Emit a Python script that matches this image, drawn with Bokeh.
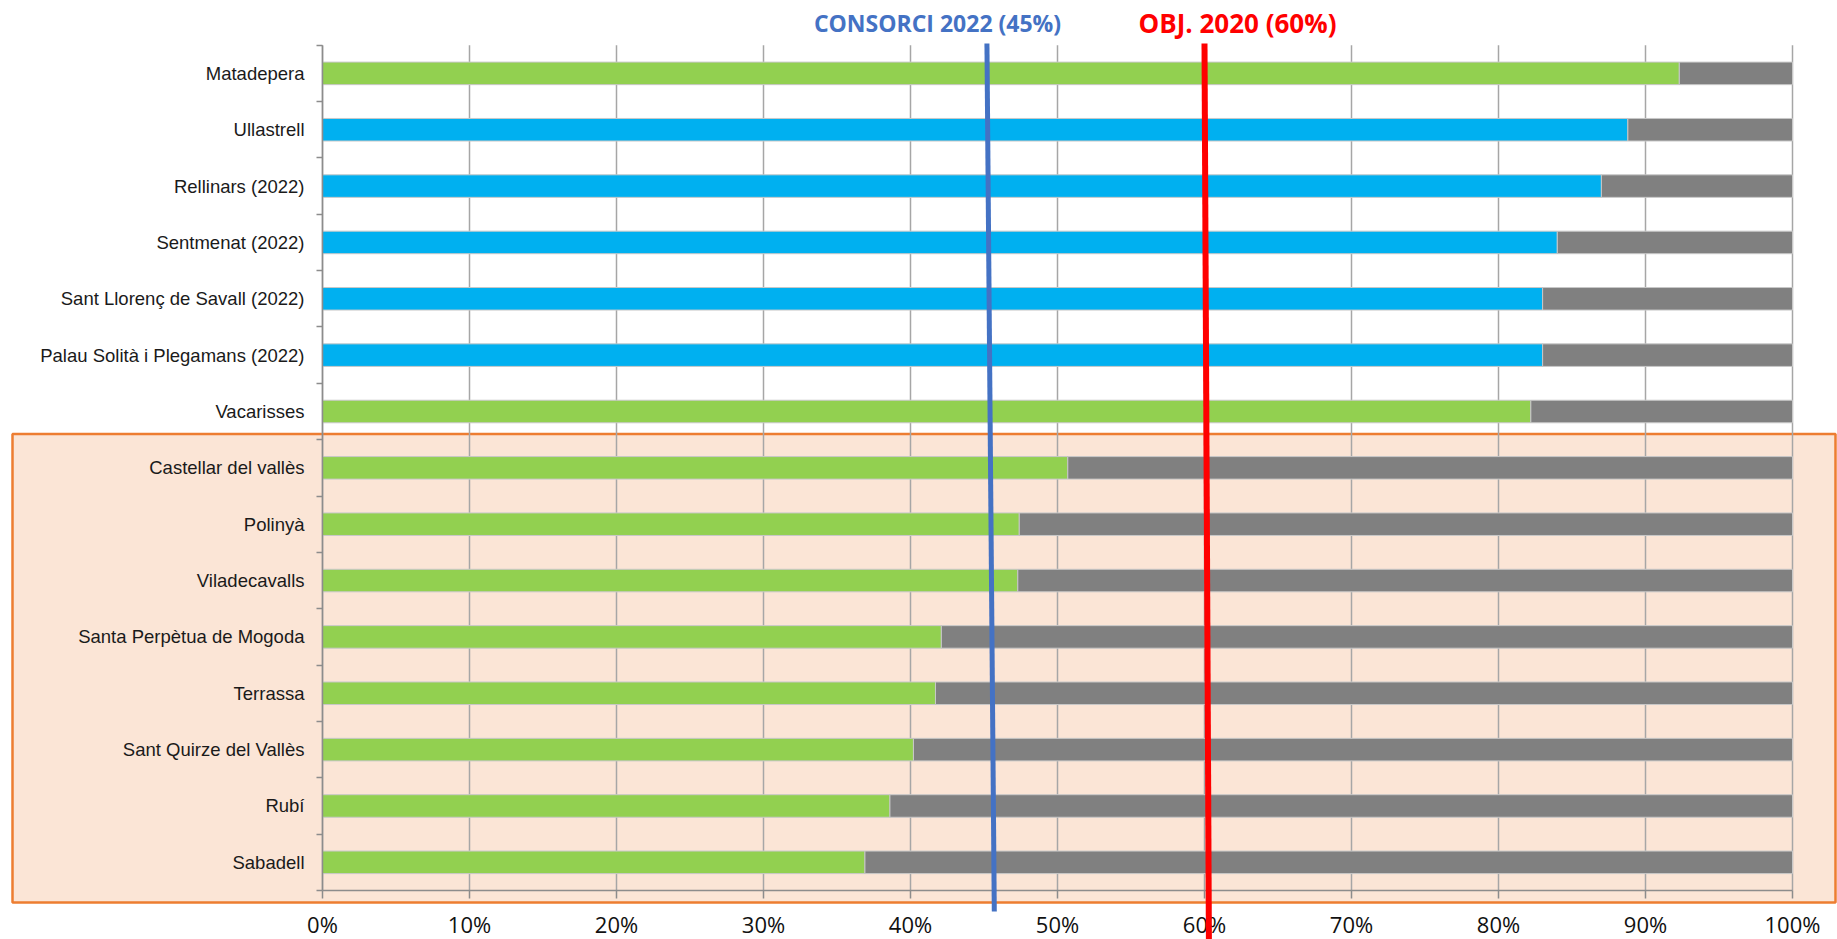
import numpy as np
from bokeh.plotting import figure
from bokeh.models import (ColumnDataSource, Range1d, FixedTicker, PrintfTickFormatter,
                          BoxAnnotation, Label, Arrow, LinearAxis)
from bokeh.embed import file_html
from bokeh.resources import INLINE

# ---- data ----
municipis = ["Matadepera", "Ullastrell", "Rellinars (2022)", "Sentmenat (2022)",
             "Sant Llorenç de Savall (2022)", "Palau Solità i Plegamans (2022)", "Vacarisses",
             "Castellar del vallès", "Polinyà", "Viladecavalls", "Santa Perpètua de Mogoda",
             "Terrassa", "Sant Quirze del Vallès", "Rubí", "Sabadell"]
percent = [92.3, 88.8, 87.0, 84.0, 83.0, 83.0, 82.2, 50.7, 47.4, 47.3, 42.1, 41.7, 40.2, 38.6, 36.9]
dada_2022 = [False, True, True, True, True, True, False, False, False, False, False, False, False, False, False]
total = 100
x_ticks = [0, 10, 20, 30, 40, 50, 60, 70, 80, 90, 100]
ref_labels = ["CONSORCI 2022 (45%)", "OBJ. 2020 (60%)"]
ref_x_top = [45.2, 60.0]
ref_x_bottom = [45.7, 60.3]

# ---- layout (pixels) ----
W, H = 1837, 939
PLOT_L, PLOT_R, PLOT_T, PLOT_B = 322, 1792, 44.7, 890
GREEN, BLUE, GRAY = "#92D050", "#00B0F0", "#808080"
REF_COLORS = ["#4472C4", "#FF0000"]
REF_WIDTHS = [5, 6]
REF_FONT_SIZES = ["23px", "26px"]
REF_TOP_PX = [43, 43]
REF_BOTTOM_PX = [911, 939]
REF_LABEL_POS = [(937, 22), (1237, 22)]
AXIS_COL = "#8C8C8C"

n = len(municipis)
xppu = (PLOT_R - PLOT_L) / total
yppu = (PLOT_B - PLOT_T) / n
x_range = Range1d(-PLOT_L / xppu, total + (W - PLOT_R) / xppu)
y_range = Range1d(-(H - PLOT_B) / yppu, n + PLOT_T / yppu)

def px_to_y(py):
    return (PLOT_B - py) / yppu

ys = [n - 0.5 - i for i in range(n)]
colors = [BLUE if b else GREEN for b in dada_2022]
src = ColumnDataSource(dict(y=ys, v=percent, t=[total] * n, c=colors))

p = figure(width=W, height=H, output_backend="svg", toolbar_location=None,
           x_range=x_range, y_range=y_range, x_axis_location=None, y_axis_location=None,
           min_border=0)
p.outline_line_color = None
p.background_fill_color = "white"
p.border_fill_color = "white"
p.grid.visible = False

box = BoxAnnotation(left=12, right=1835, top=433.5, bottom=902,
                    left_units="canvas", right_units="canvas", top_units="canvas", bottom_units="canvas",
                    fill_color="#FBE5D6", fill_alpha=1, line_color="#ED7D31", line_alpha=1,
                    line_width=2.5, level="image")
p.add_layout(box)

# gridlines
p.segment(x0=x_ticks, y0=[0] * len(x_ticks), x1=x_ticks, y1=[n] * len(x_ticks),
          line_color="#A6A6A6", line_width=1.5)

p.hbar(y="y", left=0, right="v", height=0.4, fill_color="c", line_color="#C8C8C8", line_width=1, source=src)
p.hbar(y="y", left="v", right="t", height=0.4, fill_color=GRAY, line_color="#C8C8C8", line_width=1, source=src)

# x axis
xaxis = LinearAxis(fixed_location=0, bounds=(0, total))
xaxis.ticker = FixedTicker(ticks=x_ticks)
xaxis.formatter = PrintfTickFormatter(format="%d%%")
xaxis.major_tick_out = 8
xaxis.major_tick_in = 0
xaxis.minor_tick_line_color = None
xaxis.axis_line_color = AXIS_COL
xaxis.axis_line_width = 1.5
xaxis.major_tick_line_color = AXIS_COL
xaxis.major_tick_line_width = 1.5
xaxis.major_label_text_font = "Open Sans"
xaxis.major_label_text_font_size = "22px"
xaxis.major_label_text_color = "#111111"
xaxis.major_label_standoff = 10
p.add_layout(xaxis, "below")

# y axis
yaxis = LinearAxis(fixed_location=0, bounds=(0, n))
yaxis.ticker = FixedTicker(ticks=ys, minor_ticks=list(range(n + 1)))
yaxis.major_label_overrides = {y: m for y, m in zip(ys, municipis)}
yaxis.major_tick_out = 0
yaxis.major_tick_in = 0
yaxis.minor_tick_out = 6
yaxis.minor_tick_in = 0
yaxis.minor_tick_line_color = AXIS_COL
yaxis.minor_tick_line_width = 1.5
yaxis.axis_line_color = AXIS_COL
yaxis.axis_line_width = 1.5
yaxis.major_label_text_font = "Liberation Sans"
yaxis.major_label_text_font_size = "18.5px"
yaxis.major_label_text_color = "#1A1A1A"
yaxis.major_label_standoff = 12
p.add_layout(yaxis, "left")

for lab, xt, xb, col, w, fs, pt, pb, (lx, ly) in zip(ref_labels, ref_x_top, ref_x_bottom, REF_COLORS,
                                                    REF_WIDTHS, REF_FONT_SIZES, REF_TOP_PX,
                                                    REF_BOTTOM_PX, REF_LABEL_POS):
    p.add_layout(Arrow(end=None, x_start=xt, y_start=px_to_y(pt), x_end=xb, y_end=px_to_y(pb),
                       line_color=col, line_width=w))
    p.add_layout(Label(x=lx, y=ly, x_units="canvas", y_units="canvas", text=lab,
                       text_align="center", text_baseline="middle", text_font="Open Sans",
                       text_font_style="bold", text_font_size=fs, text_color=col))

open("out.html", "w").write(file_html(p, INLINE))
